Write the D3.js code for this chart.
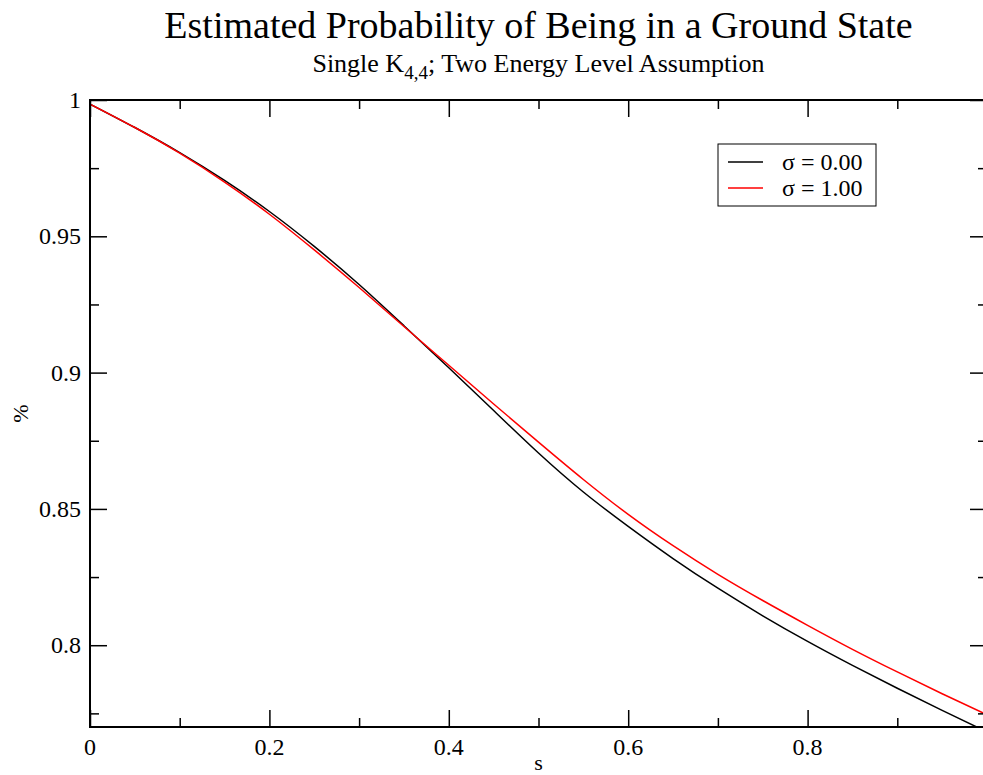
<!DOCTYPE html>
<html>
<head>
<meta charset="utf-8">
<script src="https://cdn.jsdelivr.net/npm/d3@7"></script>
<style>
  html, body { margin: 0; padding: 0; background: #fff; }
  svg { display: block; }
  svg text { font-family: "Liberation Serif", "Times New Roman", serif; fill: #000; }
</style>
</head>
<body>
<svg id="chart" width="983" height="775"></svg>
<script>
// Annealing parameter s
const sValues = [0, 0.05, 0.1, 0.15, 0.2, 0.25, 0.3, 0.35, 0.4, 0.45, 0.5,
                 0.55, 0.6, 0.65, 0.7, 0.75, 0.8, 0.85, 0.9, 0.95, 1.0];
// Ground-state probability, sigma = 0.00
const sigma0 = [0.9985, 0.9899, 0.9807, 0.9705, 0.9591, 0.9463, 0.9323, 0.9172, 0.9018, 0.8861, 0.8705,
                0.8562, 0.8436, 0.8318, 0.8209, 0.8108, 0.8014, 0.7926, 0.7842, 0.7761, 0.7682];
// Ground-state probability, sigma = 1.00
const sigma1 = [0.9985, 0.9899, 0.9805, 0.9699, 0.9581, 0.9450, 0.9312, 0.9169, 0.9027, 0.8885, 0.8745,
                0.8608, 0.8480, 0.8365, 0.8260, 0.8164, 0.8073, 0.7985, 0.7902, 0.7822, 0.7745];
const seriesNames = ["σ = 0.00", "σ = 1.00"];
const seriesColors = ["#000000", "#ff0000"];
const xTickValues = [0, 0.2, 0.4, 0.6, 0.8];
const xTickLabels = ["0", "0.2", "0.4", "0.6", "0.8"];
const yTickValues = [0.8, 0.85, 0.9, 0.95, 1];
const yTickLabels = ["0.8", "0.85", "0.9", "0.95", "1"];
const xMinorTicks = [0.1, 0.3, 0.5, 0.7, 0.9];
const yMinorTicks = [0.775, 0.825, 0.875, 0.925, 0.975];

const svg = d3.select("#chart");
const plotL = 90, plotR = 987, plotT = 100, plotB = 727;
const serif = "'Liberation Serif', 'Times New Roman', serif";

const x = d3.scaleLinear().domain([0, 1]).range([plotL, plotR]);
const y = d3.scaleLinear().domain([0.77, 1]).range([plotB, plotT]);

// Clip region for curves
svg.append("defs").append("clipPath").attr("id", "plotClip")
  .append("rect").attr("x", plotL).attr("y", plotT)
  .attr("width", plotR - plotL).attr("height", plotB - plotT);

// Curves
const series = [sigma0, sigma1];
const line = d3.line()
  .x(d => x(d[0]))
  .y(d => y(d[1]))
  .curve(d3.curveNatural);

series.forEach((vals, i) => {
  svg.append("path")
    .datum(sValues.map((s, k) => [s, vals[k]]))
    .attr("clip-path", "url(#plotClip)")
    .attr("fill", "none")
    .attr("stroke", seriesColors[i])
    .attr("stroke-width", 1.5)
    .attr("d", line);
});

// Axes: ticks point inward on all four sides
const major = 17, minor = 9;
const axisStyle = g => {
  g.select(".domain").remove();
  g.selectAll(".tick line").attr("stroke", "#000").attr("stroke-width", 1.5);
};

function ticks(axisFn, scale, pos, vals, size, horizontal) {
  svg.append("g")
    .attr("transform", horizontal ? `translate(0,${pos})` : `translate(${pos},0)`)
    .call(axisFn(scale).tickValues(vals).tickSize(size).tickFormat(""))
    .call(axisStyle);
}
ticks(d3.axisTop, x, plotB, xTickValues, major, true);
ticks(d3.axisTop, x, plotB, xMinorTicks, minor, true);
ticks(d3.axisBottom, x, plotT, xTickValues, major, true);
ticks(d3.axisBottom, x, plotT, xMinorTicks, minor, true);
ticks(d3.axisRight, y, plotL, yTickValues, major, false);
ticks(d3.axisRight, y, plotL, yMinorTicks, minor, false);
ticks(d3.axisLeft, y, plotR, yTickValues, major, false);
ticks(d3.axisLeft, y, plotR, yMinorTicks, minor, false);

// Frame
svg.append("rect")
  .attr("x", plotL).attr("y", plotT)
  .attr("width", plotR - plotL).attr("height", plotB - plotT)
  .attr("fill", "none").attr("stroke", "#000").attr("stroke-width", 2);

// Tick labels
svg.append("g").selectAll("text").data(xTickValues).join("text")
  .attr("x", d => x(d)).attr("y", 755)
  .attr("text-anchor", "middle").attr("font-size", 24).attr("font-family", serif)
  .text((d, i) => xTickLabels[i]);
svg.append("g").selectAll("text").data(yTickValues).join("text")
  .attr("x", plotL - 9).attr("y", d => y(d))
  .attr("dy", "0.34em")
  .attr("text-anchor", "end").attr("font-size", 24).attr("font-family", serif)
  .text((d, i) => yTickLabels[i]);

// Axis titles
svg.append("text").attr("x", (plotL + plotR) / 2).attr("y", 770)
  .attr("text-anchor", "middle").attr("font-size", 22).attr("font-family", serif).text("s");
svg.append("text")
  .attr("transform", `translate(28,${(plotT + plotB) / 2}) rotate(-90)`)
  .attr("text-anchor", "middle").attr("font-size", 22).attr("font-family", serif).text("%");

// Title and subtitle
svg.append("text").attr("x", (plotL + plotR) / 2).attr("y", 38)
  .attr("text-anchor", "middle").attr("font-size", 38).attr("font-family", serif)
  .text("Estimated Probability of Being in a Ground State");
const sub = svg.append("text").attr("x", (plotL + plotR) / 2).attr("y", 72)
  .attr("text-anchor", "middle").attr("font-size", 26).attr("font-family", serif);
sub.append("tspan").text("Single K");
sub.append("tspan").attr("font-size", 19).attr("dy", 7).text("4,4");
sub.append("tspan").attr("dy", -7).text("; Two Energy Level Assumption");

// Legend
const lg = svg.append("g");
lg.append("rect").attr("x", 718).attr("y", 144).attr("width", 158).attr("height", 62)
  .attr("fill", "#fff").attr("stroke", "#000").attr("stroke-width", 1);
seriesNames.forEach((name, i) => {
  const ly = 162 + i * 26;
  lg.append("line").attr("x1", 728).attr("x2", 763).attr("y1", ly).attr("y2", ly)
    .attr("stroke", seriesColors[i]).attr("stroke-width", 1.5);
  lg.append("text").attr("x", 782).attr("y", ly).attr("dy", "0.34em")
    .attr("font-size", 24).attr("font-family", serif).text(name);
});
</script>
</body>
</html>
